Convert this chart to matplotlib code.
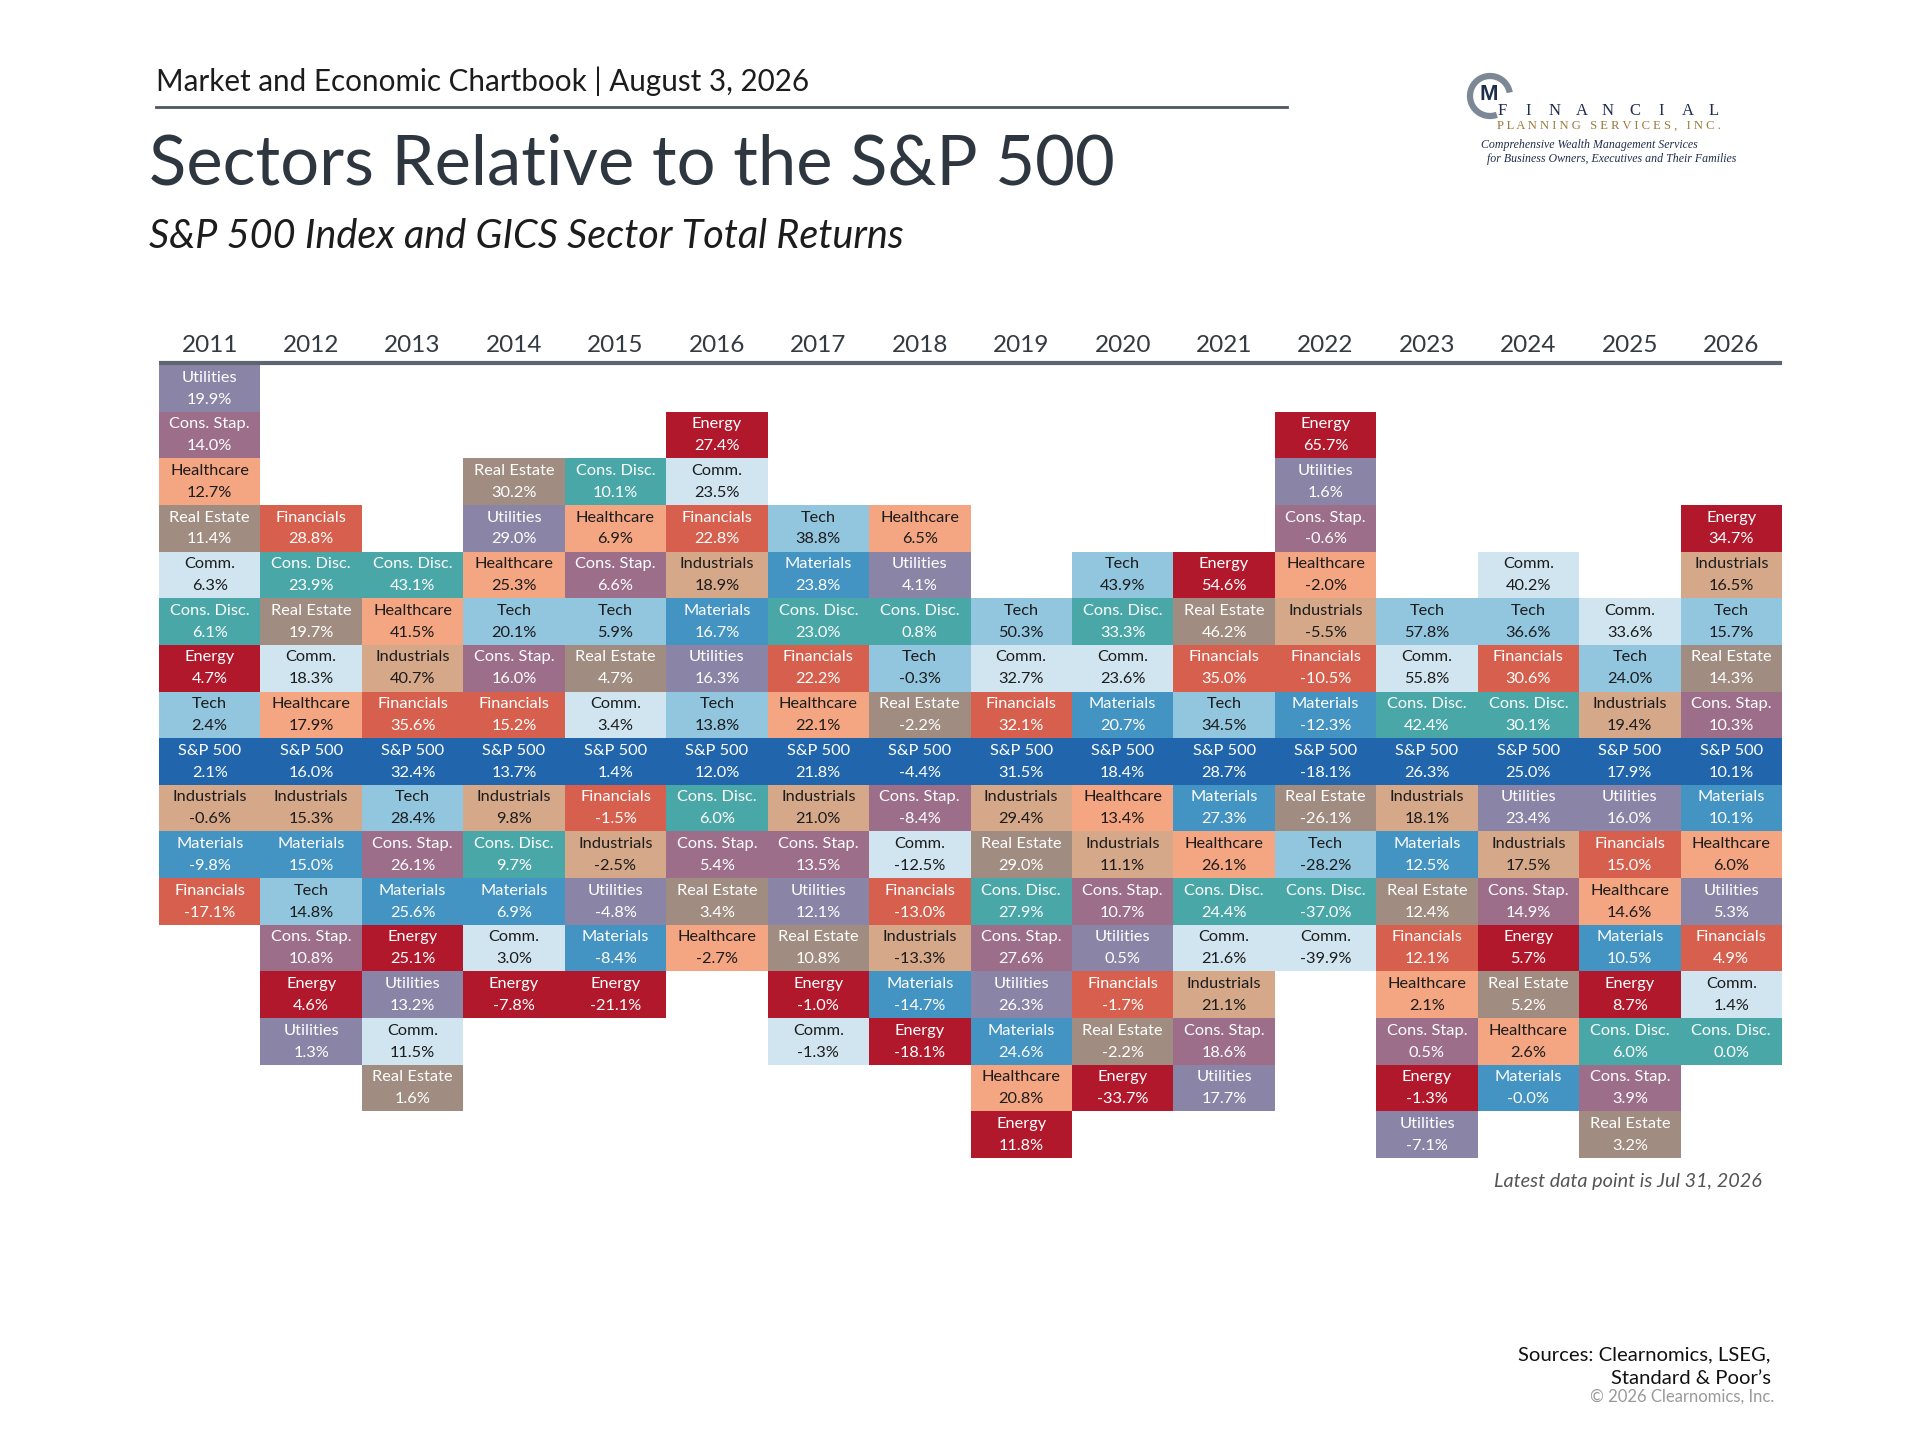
"""Sector returns relative to the S&P 500, one column per year."""
import matplotlib

matplotlib.use("Agg")
import matplotlib.pyplot as plt
from matplotlib.patches import Arc

# Data: each year lists sectors in ranked order (best at top), S&P 500 included
years = [2011, 2012, 2013, 2014, 2015, 2016, 2017, 2018,
         2019, 2020, 2021, 2022, 2023, 2024, 2025, 2026]

sectors = [
    ["Utilities", "Cons. Stap.", "Healthcare", "Real Estate", "Comm.", "Cons. Disc.",
     "Energy", "Tech", "S&P 500", "Industrials", "Materials", "Financials"],
    ["Financials", "Cons. Disc.", "Real Estate", "Comm.", "Healthcare", "S&P 500",
     "Industrials", "Materials", "Tech", "Cons. Stap.", "Energy", "Utilities"],
    ["Cons. Disc.", "Healthcare", "Industrials", "Financials", "S&P 500", "Tech",
     "Cons. Stap.", "Materials", "Energy", "Utilities", "Comm.", "Real Estate"],
    ["Real Estate", "Utilities", "Healthcare", "Tech", "Cons. Stap.", "Financials",
     "S&P 500", "Industrials", "Cons. Disc.", "Materials", "Comm.", "Energy"],
    ["Cons. Disc.", "Healthcare", "Cons. Stap.", "Tech", "Real Estate", "Comm.",
     "S&P 500", "Financials", "Industrials", "Utilities", "Materials", "Energy"],
    ["Energy", "Comm.", "Financials", "Industrials", "Materials", "Utilities", "Tech",
     "S&P 500", "Cons. Disc.", "Cons. Stap.", "Real Estate", "Healthcare"],
    ["Tech", "Materials", "Cons. Disc.", "Financials", "Healthcare", "S&P 500",
     "Industrials", "Cons. Stap.", "Utilities", "Real Estate", "Energy", "Comm."],
    ["Healthcare", "Utilities", "Cons. Disc.", "Tech", "Real Estate", "S&P 500",
     "Cons. Stap.", "Comm.", "Financials", "Industrials", "Materials", "Energy"],
    ["Tech", "Comm.", "Financials", "S&P 500", "Industrials", "Real Estate",
     "Cons. Disc.", "Cons. Stap.", "Utilities", "Materials", "Healthcare", "Energy"],
    ["Tech", "Cons. Disc.", "Comm.", "Materials", "S&P 500", "Healthcare",
     "Industrials", "Cons. Stap.", "Utilities", "Financials", "Real Estate", "Energy"],
    ["Energy", "Real Estate", "Financials", "Tech", "S&P 500", "Materials",
     "Healthcare", "Cons. Disc.", "Comm.", "Industrials", "Cons. Stap.", "Utilities"],
    ["Energy", "Utilities", "Cons. Stap.", "Healthcare", "Industrials", "Financials",
     "Materials", "S&P 500", "Real Estate", "Tech", "Cons. Disc.", "Comm."],
    ["Tech", "Comm.", "Cons. Disc.", "S&P 500", "Industrials", "Materials",
     "Real Estate", "Financials", "Healthcare", "Cons. Stap.", "Energy", "Utilities"],
    ["Comm.", "Tech", "Financials", "Cons. Disc.", "S&P 500", "Utilities",
     "Industrials", "Cons. Stap.", "Energy", "Real Estate", "Healthcare", "Materials"],
    ["Comm.", "Tech", "Industrials", "S&P 500", "Utilities", "Financials",
     "Healthcare", "Materials", "Energy", "Cons. Disc.", "Cons. Stap.", "Real Estate"],
    ["Energy", "Industrials", "Tech", "Real Estate", "Cons. Stap.", "S&P 500",
     "Materials", "Healthcare", "Utilities", "Financials", "Comm.", "Cons. Disc."],
]

returns = [
    [19.9, 14.0, 12.7, 11.4, 6.3, 6.1, 4.7, 2.4, 2.1, -0.6, -9.8, -17.1],
    [28.8, 23.9, 19.7, 18.3, 17.9, 16.0, 15.3, 15.0, 14.8, 10.8, 4.6, 1.3],
    [43.1, 41.5, 40.7, 35.6, 32.4, 28.4, 26.1, 25.6, 25.1, 13.2, 11.5, 1.6],
    [30.2, 29.0, 25.3, 20.1, 16.0, 15.2, 13.7, 9.8, 9.7, 6.9, 3.0, -7.8],
    [10.1, 6.9, 6.6, 5.9, 4.7, 3.4, 1.4, -1.5, -2.5, -4.8, -8.4, -21.1],
    [27.4, 23.5, 22.8, 18.9, 16.7, 16.3, 13.8, 12.0, 6.0, 5.4, 3.4, -2.7],
    [38.8, 23.8, 23.0, 22.2, 22.1, 21.8, 21.0, 13.5, 12.1, 10.8, -1.0, -1.3],
    [6.5, 4.1, 0.8, -0.3, -2.2, -4.4, -8.4, -12.5, -13.0, -13.3, -14.7, -18.1],
    [50.3, 32.7, 32.1, 31.5, 29.4, 29.0, 27.9, 27.6, 26.3, 24.6, 20.8, 11.8],
    [43.9, 33.3, 23.6, 20.7, 18.4, 13.4, 11.1, 10.7, 0.5, -1.7, -2.2, -33.7],
    [54.6, 46.2, 35.0, 34.5, 28.7, 27.3, 26.1, 24.4, 21.6, 21.1, 18.6, 17.7],
    [65.7, 1.6, -0.6, -2.0, -5.5, -10.5, -12.3, -18.1, -26.1, -28.2, -37.0, -39.9],
    [57.8, 55.8, 42.4, 26.3, 18.1, 12.5, 12.4, 12.1, 2.1, 0.5, -1.3, -7.1],
    [40.2, 36.6, 30.6, 30.1, 25.0, 23.4, 17.5, 14.9, 5.7, 5.2, 2.6, -0.0],
    [33.6, 24.0, 19.4, 17.9, 16.0, 15.0, 14.6, 10.5, 8.7, 6.0, 3.9, 3.2],
    [34.7, 16.5, 15.7, 14.3, 10.3, 10.1, 10.1, 6.0, 5.3, 4.9, 1.4, 0.0],
]

sector_colors = {
    "Utilities": "#8a85a6",
    "Cons. Stap.": "#9c6e89",
    "Healthcare": "#f4a582",
    "Real Estate": "#a08c80",
    "Comm.": "#d1e5f0",
    "Cons. Disc.": "#4aa7a8",
    "Energy": "#b2182b",
    "Tech": "#92c5de",
    "S&P 500": "#2166ac",
    "Industrials": "#d5a88a",
    "Materials": "#4393c3",
    "Financials": "#d6604d",
}
dark_text = {"Healthcare", "Comm.", "Tech", "Industrials"}

FONT = "Lato"
W, H = 1920, 1440


def main():
    fig = plt.figure(figsize=(W / 100, H / 100), dpi=100)

    # Page decoration in pixel coordinates
    deco = fig.add_axes([0, 0, 1, 1])
    deco.set_xlim(0, W)
    deco.set_ylim(H, 0)
    deco.axis("off")

    deco.text(156, 81, "Market and Economic Chartbook | August 3, 2026",
              fontsize=21.3, family=FONT, color="#1c1c1c", va="center")
    deco.plot([156, 1287], [106.5, 106.5], color="#4d5760", lw=2)
    deco.text(149, 165, "Sectors Relative to the S&P 500",
              fontsize=49.5, family=FONT, color="#2e3740", va="center")
    deco.text(149, 236, "S&P 500 Index and GICS Sector Total Returns",
              fontsize=28.5, family=FONT, style="italic", color="#1c1c1c", va="center")

    draw_logo(deco)

    deco.text(1762, 1182, "Latest data point is Jul 31, 2026", fontsize=14.3,
              family=FONT, style="italic", color="#555555", ha="right", va="center")
    deco.text(1771, 1355, "Sources: Clearnomics, LSEG,", fontsize=14.6,
              family=FONT, color="#111111", ha="right", va="center")
    deco.text(1771, 1378, "Standard & Poor\u2019s", fontsize=14.6,
              family=FONT, color="#111111", ha="right", va="center")
    deco.text(1774, 1397, "\u00a9 2026 Clearnomics, Inc.", fontsize=12,
              family=FONT, color="#999999", ha="right", va="center")

    # Table of ranked sector returns
    anchor = max(col.index("S&P 500") for col in sectors)
    n_rows = max(anchor - col.index("S&P 500") + len(col) for col in sectors)

    left, right, top, bottom = 159, 1782, 365, 1158
    ax = fig.add_axes([left / W, 1 - bottom / H, (right - left) / W, (bottom - top) / H])
    ax.set_xlim(0, len(years))
    ax.set_ylim(n_rows, 0)
    ax.axis("off")

    for j, (year, names, vals) in enumerate(zip(years, sectors, returns)):
        offset = anchor - names.index("S&P 500")
        rows = [offset + i for i in range(len(names))]
        ax.bar([j] * len(rows), [1] * len(rows), bottom=rows, width=1, align="edge",
               color=[sector_colors[n] for n in names], linewidth=0)
        for row, name, val in zip(rows, names, vals):
            tc = "#1c1c1c" if name in dark_text else "#ffffff"
            ax.text(j + 0.5, row + 0.27, name, ha="center", va="center",
                    fontsize=11.8, family=FONT, color=tc)
            ax.text(j + 0.5, row + 0.74, f"{val:.1f}%", ha="center", va="center",
                    fontsize=11.8, family=FONT, color=tc)
        ax.text(j + 0.5, -0.42, str(year), ha="center", va="center",
                fontsize=17.5, family=FONT, color="#333a40", clip_on=False)

    ax.plot([0, len(years)], [-0.05, -0.05], color="#5d666e", lw=3,
            clip_on=False, solid_capstyle="butt")

    fig.savefig("out.png", dpi=100, facecolor="white")


def draw_logo(ax):
    """Rough rendering of the firm's logo block."""
    navy = "#1f2d4d"
    # y axis is inverted here, so the arc angles run the other way round
    ax.add_patch(Arc((1490, 96), 40, 40, theta1=70, theta2=350,
                     color="#7d8896", lw=4.5))
    ax.text(1489, 95, "M", fontsize=16, family="Liberation Sans", weight="bold",
            color=navy, ha="center", va="center")
    letters = "FINANCIAL"
    for k, ch in enumerate(letters):
        ax.text(1502 + k * 26.5, 111, ch, fontsize=12, family="Liberation Serif",
                color=navy, ha="center", va="center")
    ax.text(1497, 126, "P L A N N I N G   S E R V I C E S ,   I N C .", fontsize=9.1,
            family="Liberation Serif", color="#9b7a3c", va="center")
    ax.text(1481, 145, "Comprehensive Wealth Management Services", fontsize=8.6,
            family="Liberation Serif", style="italic", color=navy, va="center")
    ax.text(1487, 159, "for Business Owners, Executives and Their Families", fontsize=8.6,
            family="Liberation Serif", style="italic", color=navy, va="center")


if __name__ == "__main__":
    main()
